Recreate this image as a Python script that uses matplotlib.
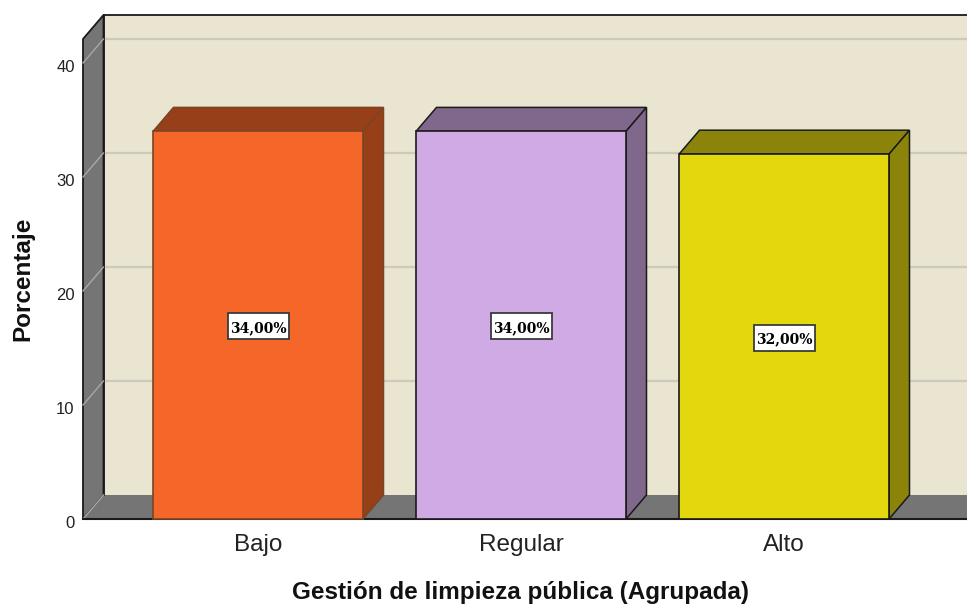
import matplotlib
matplotlib.use("Agg")
import matplotlib.pyplot as plt
from matplotlib.patches import Polygon, Rectangle
from matplotlib.transforms import ScaledTranslation

categories = ["Bajo", "Regular", "Alto"]
values = [34.0, 34.0, 32.0]
labels = ["34,00%", "34,00%", "32,00%"]
yticks = [0, 10, 20, 30, 40]
front_colors = ["#F46729", "#D0AAE5", "#E3D80E"]
side_colors = ["#963F18", "#7F688C", "#8C840A"]
edge_colors = ["#7A4526", "#1a1a1a", "#1a1a1a"]

W, H = 967, 604
plt.rcParams["font.family"] = ["Liberation Sans", "DejaVu Sans"]
fig = plt.figure(figsize=(W / 100, H / 100), dpi=100)
ax = fig.add_axes([83 / W, 1 - 519 / H, (W - 83) / W, 480 / H])
ax.set_xlim(-175 / 263, 709 / 263)
ymax = 480 / 11.4
ax.set_ylim(0, ymax)
ax.patch.set_visible(False)

dx = 20.5 / 263      # depth in x units
dy = 24 / 11.4       # depth in y units
x0, x1 = ax.get_xlim()
LINE = "#1a1a1a"

# back wall, side wall, floor
ax.add_patch(Polygon([(x0 + dx, dy), (x1 + 1, dy), (x1 + 1, ymax + dy), (x0 + dx, ymax + dy)],
                     fc="#EAE5D0", ec="none", zorder=1, clip_on=False))
ax.add_patch(Polygon([(x0, 0), (x0 + dx, dy), (x0 + dx, ymax + dy), (x0, ymax)],
                     fc="#757575", ec=LINE, lw=1.3, zorder=2, clip_on=False))
ax.add_patch(Polygon([(x0, 0), (x0 + dx, dy), (x1 + 1, dy), (x1 + 1, 0)],
                     fc="#757575", ec="none", zorder=2, clip_on=False))
ax.plot([x0 + dx, x1], [ymax + dy] * 2, color=LINE, lw=1.3, zorder=3, clip_on=False)
ax.plot([x0 + dx, x0 + dx], [dy, ymax + dy], color=LINE, lw=1.3, zorder=3, clip_on=False)

# gridlines on the walls
for t in yticks[1:]:
    ax.plot([x0 + dx, x1], [t + dy] * 2, color="#CDC9BD", lw=1.6, zorder=1.5, clip_on=False)
    ax.plot([x0, x0 + dx], [t, t + dy], color="#A8A8A8", lw=1.0, zorder=3, clip_on=False)
ax.plot([x0, x0 + dx], [0, dy], color="#A8A8A8", lw=1.0, zorder=3, clip_on=False)
ax.plot([x0, x1], [0, 0], color=LINE, lw=1.5, zorder=3.5, clip_on=False)

# bars
w = 210 / 263
box_w, box_h = 61 / 263, 26 / 11.4
for i, (v, fc, sc, ec) in enumerate(zip(values, front_colors, side_colors, edge_colors)):
    l, r = i - w / 2, i + w / 2
    ax.add_patch(Polygon([(l, v), (l + dx, v + dy), (r + dx, v + dy), (r, v)],
                         fc=sc, ec=ec, lw=1.1, zorder=4, clip_on=False))
    ax.add_patch(Polygon([(r, 0), (r + dx, dy), (r + dx, v + dy), (r, v)],
                         fc=sc, ec=ec, lw=1.1, zorder=4, clip_on=False))
    ax.bar(i, v, width=w, color=fc, edgecolor=ec, linewidth=1.2, zorder=5, clip_on=False)
    mid = v / 2 - 0.1
    ax.add_patch(Rectangle((i - box_w / 2, mid - box_h / 2), box_w, box_h,
                           fc="white", ec="#3a3a3a", lw=1.3, zorder=6))
    ax.text(i, mid, labels[i], ha="center", va="center_baseline", zorder=7,
            family="DejaVu Serif", weight="bold", fontsize=10, color="black")

for s in ax.spines.values():
    s.set_visible(False)
ax.set_xticks(range(len(categories)), categories, fontsize=17.5, color="#222222")
ax.set_yticks(yticks, [str(t) for t in yticks], fontsize=12, color="#222222")
ax.tick_params(axis="x", length=0, pad=11)
ax.tick_params(axis="y", length=0, pad=6)
shift = ScaledTranslation(0, -3 / 100, fig.dpi_scale_trans)
for lab in ax.get_yticklabels():
    lab.set_transform(lab.get_transform() + shift)
fig.text(520 / W, 1 - 592 / H, "Gestión de limpieza pública (Agrupada)", ha="center", va="center",
         fontsize=17.5, weight="bold", color="#111111")
fig.text(23 / W, 1 - 279 / H, "Porcentaje", ha="center", va="center", rotation=90,
         fontsize=17.5, weight="bold", color="#111111")
fig.savefig("out.png", dpi=100, facecolor="white")
